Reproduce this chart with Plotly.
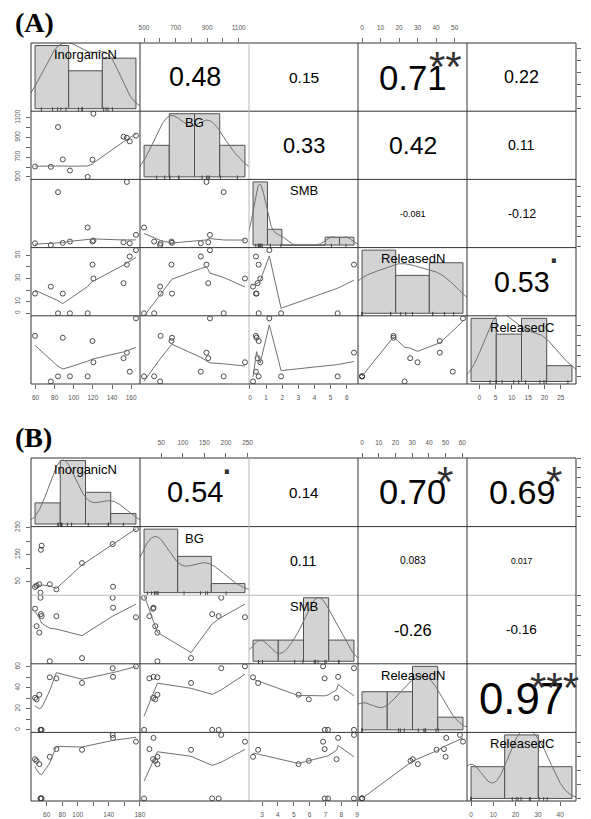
import numpy as np
import plotly.graph_objects as go

# ---------------- data ----------------
VARIABLES = ["InorganicN", "BG", "SMB", "ReleasedN", "ReleasedC"]

# Panel (A): 12 observations
A_InorganicN = [59.5, 76, 83.5, 88.5, 96, 114.5, 120.5, 119.5, 152, 155.5, 158.5, 165]
A_BG = [605, 602, 1005, 677, 564, 500, 1140, 674, 907, 896, 860, 918]
A_SMB = [0.37, 0.19, 5.44, 0.41, 0.54, 1.93, 0.64, 0.54, 0.47, 6.45, 0.37, 1.2]
A_ReleasedN = [17, 23, 0, 17, 0, 0, 30, 42, 26, 42, 49, 54.5]
A_ReleasedC = [19.8, -2.5, 0, 18.9, 0, 0, 6.9, 17.3, 8.9, 11.6, 2.3, 28.4]

# Panel (B): 12 observations
B_InorganicN = [45, 47, 50.5, 52.5, 53.5, 52, 64, 72.5, 105.5, 145, 145.5, 175]
B_BG = [31, 36, 41, 168, 183, 10, 41, 22.4, 119, 189, 32, 244]
B_SMB = [7.7, 5.95, 5.3, 7.16, 6.96, 8.8, 2.43, 6.95, 2.75, 8.8, 7.8, 6.85]
B_ReleasedN = [30.4, 29, 33.4, 0, 0, 0, 50, 49, 44.6, 58.6, 50.4, 60.4]
B_ReleasedC = [28, 26.8, 24.5, 0, 0, 0, 29.7, 35.2, 34.7, 45.3, 43.2, 40.5]

# histogram breaks of the diagonal panels
A_BREAKS = [[50, 100, 150, 200], [400, 600, 800, 1000, 1200], [0, 1, 2, 3, 4, 5, 6, 7],
            [0, 20, 40, 60], [-10, 0, 10, 20, 30]]
B_BREAKS = [[0, 50, 100, 150, 200], [0, 100, 200, 300], [2, 4, 6, 8, 10],
            [0, 20, 40, 60, 80], [0, 20, 40, 60]]

# correlations, upper triangle in row order: (1,2),(1,3),(1,4),(1,5),(2,3),(2,4),(2,5),(3,4),(3,5),(4,5)
A_COR_TEXT = ["0.48", "0.15", "0.71", "0.22", "0.33", "0.42", "0.11", "-0.081", "-0.12", "0.53"]
A_COR_SIG = ["", "", "**", "", "", "", "", "", "", "."]
B_COR_TEXT = ["0.54", "0.14", "0.70", "0.69", "0.11", "0.083", "0.017", "-0.26", "-0.16", "0.97"]
B_COR_SIG = [".", "", "*", "*", "", "", "", "", "", "***"]

# tick values / labels (column axes: bottom for odd columns, top for even; row axes: left/right)
A_COL_TICKS = [
    ([60, 80, 100, 120, 140, 160], ["60", "80", "100", "120", "140", "160"]),
    ([500, 600, 700, 800, 900, 1000, 1100], ["500", "", "700", "", "900", "", "1100"]),
    ([0, 1, 2, 3, 4, 5, 6], ["0", "1", "2", "3", "4", "5", "6"]),
    ([0, 10, 20, 30, 40, 50], ["0", "10", "20", "30", "40", "50"]),
    ([0, 5, 10, 15, 20, 25], ["0", "5", "10", "15", "20", "25"]),
]
A_ROW_TICKS = [
    ([60, 80, 100, 120, 140, 160], ["60", "", "100", "", "140", ""]),
    ([500, 600, 700, 800, 900, 1000, 1100], ["500", "", "700", "", "900", "", "1100"]),
    ([0, 1, 2, 3, 4, 5, 6], ["0", "1", "2", "3", "4", "5", "6"]),
    ([0, 10, 20, 30, 40, 50], ["0", "10", "", "30", "", "50"]),
    ([0, 5, 10, 15, 20, 25], ["0", "5", "", "15", "", "25"]),
]
B_COL_TICKS = [
    ([60, 80, 100, 120, 140, 160, 180], ["60", "80", "100", "", "140", "", "180"]),
    ([50, 100, 150, 200, 250], ["50", "100", "150", "200", "250"]),
    ([3, 4, 5, 6, 7, 8, 9], ["3", "4", "5", "6", "7", "8", "9"]),
    ([0, 10, 20, 30, 40, 50, 60], ["0", "10", "20", "30", "40", "50", "60"]),
    ([0, 10, 20, 30, 40], ["0", "10", "20", "30", "40"]),
]
B_ROW_TICKS = [
    ([60, 80, 100, 120, 140, 160, 180], ["60", "", "100", "", "140", "", "180"]),
    ([50, 100, 150, 200, 250], ["50", "", "150", "", "250"]),
    ([3, 4, 5, 6, 7, 8, 9], ["3", "4", "5", "6", "7", "8", "9"]),
    ([0, 10, 20, 30, 40, 50, 60], ["0", "", "20", "", "40", "", "60"]),
    ([0, 10, 20, 30, 40], ["0", "10", "20", "30", "40"]),
]

# ---------------- helpers ----------------
# the page body has an 8px default margin: the figure is drawn 8px smaller and
# all layout pixel positions (given in window pixels) are shifted by it
OFF = 8
W, H = 591 - OFF, 819 - OFF
FONT = "Liberation Sans, Arial, sans-serif"
CELL_W = 109
XB = [31 - OFF + CELL_W * k for k in range(6)]


def pad(v):
    v = np.asarray(v, float)
    s = v.max() - v.min()
    return [v.min() - 0.04 * s, v.max() + 0.04 * s]


def axid(letter, k):
    return letter if k == 1 else f"{letter}{k}"


def axkey(letter, k):
    return f"{letter}axis" if k == 1 else f"{letter}axis{k}"


def bw_nrd0(x):
    x = np.asarray(x, float)
    hi = np.std(x, ddof=1)
    q75, q25 = np.percentile(x, [75, 25])
    lo = min(hi, (q75 - q25) / 1.34)
    if lo <= 0:
        lo = hi if hi > 0 else (abs(x[0]) if x[0] != 0 else 1.0)
    return 0.9 * lo * len(x) ** -0.2


def kde(x):
    x = np.asarray(x, float)
    bw = bw_nrd0(x)
    g = np.linspace(x.min() - 3 * bw, x.max() + 3 * bw, 512)
    d = np.exp(-0.5 * ((g[:, None] - x[None, :]) / bw) ** 2).sum(1) / (len(x) * bw * np.sqrt(2 * np.pi))
    return g, d


def hist_density(x, breaks):
    x = np.asarray(x, float)
    b = np.asarray(breaks, float)
    counts = np.zeros(len(b) - 1)
    for v in x:
        for q in range(len(b) - 1):
            lo_ok = v > b[q] or (q == 0 and v >= b[q])
            if lo_ok and v <= b[q + 1]:
                counts[q] += 1
                break
    widths = np.diff(b)
    return (b[:-1] + b[1:]) / 2, widths, counts / (len(x) * widths)


def lowess(x, y, f=2 / 3, iters=3):
    order = np.argsort(np.asarray(x, float), kind="stable")
    x = np.asarray(x, float)[order]
    y = np.asarray(y, float)[order]
    n = len(x)
    ns = max(min(int(f * n + 1e-7), n), 2)
    rw = np.ones(n)
    ys = np.zeros(n)
    rng = x[-1] - x[0]
    for it in range(iters + 1):
        nleft, nright = 0, ns - 1
        for i in range(n):
            while nright < n - 1:
                d1 = x[i] - x[nleft]
                d2 = x[nright + 1] - x[i]
                if d1 <= d2:
                    break
                nleft += 1
                nright += 1
            xs = x[i]
            h = max(xs - x[nleft], x[nright] - xs)
            h9, h1 = 0.999 * h, 0.001 * h
            w = np.zeros(n)
            a = 0.0
            j = nleft
            while j < n:
                r = abs(x[j] - xs)
                if r <= h9:
                    w[j] = 1.0 if r <= h1 else (1 - (r / h) ** 3) ** 3
                    if it > 0:
                        w[j] *= rw[j]
                    a += w[j]
                elif x[j] > xs:
                    break
                j += 1
            nrt = j - 1
            sl = slice(nleft, nrt + 1)
            if a <= 0:
                ys[i] = y[i]
            else:
                w[sl] /= a
                if h > 0:
                    aa = np.sum(w[sl] * x[sl])
                    c = np.sum(w[sl] * (x[sl] - aa) ** 2)
                    if np.sqrt(c) > 0.001 * rng:
                        b = (xs - aa) / c
                        w[sl] *= b * (x[sl] - aa) + 1
                ys[i] = np.sum(w[sl] * y[sl])
        if it == iters:
            break
        res = y - ys
        cmad = 6 * np.median(np.abs(res))
        if cmad == 0 or cmad < 1e-7 * np.mean(np.abs(res)):
            break
        r = np.abs(res)
        rw = np.where(r <= 0.001 * cmad, 1.0,
                      np.where(r <= 0.999 * cmad, (1 - (r / cmad) ** 2) ** 2, 0.0))
    return x, ys


EM = {".": 0.278, "-": 0.333}


def em_width(s):
    return sum(EM.get(c, 0.556) for c in s)


AX_OFF = dict(showgrid=False, zeroline=False, showline=False, ticks="",
              showticklabels=False, fixedrange=True, automargin=False)


def tick_style(t, standoff=3):
    vals, texts = t
    return dict(tickmode="array", tickvals=vals, ticktext=texts, ticks="outside",
                ticklen=4, tickwidth=1, tickcolor="#666", showticklabels=True,
                tickfont=dict(family=FONT, size=6.5, color="#555"), ticklabelstandoff=standoff)


PANELS = [
    dict(label="(A)", data=[A_InorganicN, A_BG, A_SMB, A_ReleasedN, A_ReleasedC],
         breaks=A_BREAKS, cor=A_COR_TEXT, sig=A_COR_SIG, col_ticks=A_COL_TICKS,
         row_ticks=A_ROW_TICKS, top=43, bot=384, label_y=22.5, light_h=[]),
    dict(label="(B)", data=[B_InorganicN, B_BG, B_SMB, B_ReleasedN, B_ReleasedC],
         breaks=B_BREAKS, cor=B_COR_TEXT, sig=B_COR_SIG, col_ticks=B_COL_TICKS,
         row_ticks=B_ROW_TICKS, top=458, bot=801, label_y=437, light_h=[2]),
]

fig = go.Figure()
layout = {}
annotations = []
shapes = []

for p, P in enumerate(PANELS):
    data = [np.asarray(d, float) for d in P["data"]]
    YB = [P["top"] - OFF + (P["bot"] - P["top"]) * k / 5 for k in range(6)]
    ranges = [pad(d) for d in data]
    up = 0
    for i in range(5):
        for j in range(5):
            k = p * 25 + i * 5 + j + 1
            xr, yr = axid("x", k), axid("y", k)
            xdom = [XB[j] / W, XB[j + 1] / W]
            ydom = [1 - YB[i + 1] / H, 1 - YB[i] / H]
            xa = dict(domain=xdom, anchor=yr, range=ranges[j], **AX_OFF)
            ya = dict(domain=ydom, anchor=xr, range=ranges[i], **AX_OFF)
            if i == 4 and j % 2 == 0:
                xa.update(tick_style(P["col_ticks"][j]), side="bottom")
            if i == 0 and j % 2 == 1:
                xa.update(tick_style(P["col_ticks"][j], 5), side="top")
            if j == 0 and i % 2 == 1:
                ya.update(tick_style(P["row_ticks"][i]), side="left", tickangle=-90)
            if j == 4 and i % 2 == 0:
                ya.update(tick_style(P["row_ticks"][i], 2), side="right", tickangle=-90)
            layout[axkey("x", k)] = xa
            layout[axkey("y", k)] = ya

            if i > j:
                # lower panel: scatter + lowess smooth
                fig.add_trace(go.Scatter(x=data[j], y=data[i], mode="markers", xaxis=xr, yaxis=yr,
                                         marker=dict(symbol="circle-open", size=5, color="#3a3a3a",
                                                     line=dict(width=0.9, color="#3a3a3a")),
                                         hoverinfo="skip", showlegend=False))
                lx, ly = lowess(data[j], data[i])
                fig.add_trace(go.Scatter(x=lx, y=ly, mode="lines", xaxis=xr, yaxis=yr,
                                         line=dict(color="#707070", width=1),
                                         hoverinfo="skip", showlegend=False))
            else:
                # invisible anchor trace keeps the cell's own axes alive
                fig.add_trace(go.Scatter(x=data[j], y=data[i], mode="markers", xaxis=xr, yaxis=yr,
                                         marker=dict(opacity=0, color="white"),
                                         hoverinfo="skip", showlegend=False))
            if i < j:
                # upper panel: correlation text
                txt = P["cor"][up]
                sig = P["sig"][up]
                up += 1
                r = abs(float(txt))
                size = 0.8 / 1.3 * CELL_W * (r + 0.3) / em_width(txt)
                annotations.append(dict(xref=f"{xr} domain", yref=f"{yr} domain", x=0.5, y=0.5,
                                        text=txt, showarrow=False, xanchor="center", yanchor="middle",
                                        font=dict(family=FONT, size=size, color="black")))
                if sig:
                    ssize = 0.75 * CELL_W / em_width(txt)
                    shift = 0.3 * ssize if sig == "." else -0.23 * ssize
                    annotations.append(dict(xref=f"{xr} domain", yref=f"{yr} domain", x=0.8, y=0.8,
                                            text=sig, showarrow=False, xanchor="center",
                                            yanchor="middle", yshift=shift,
                                            font=dict(family=FONT, size=ssize, color="#333")))
            elif i == j:
                # diagonal: histogram + density + rug on their own axes over the same cell
                h = 50 + p * 5 + i + 1
                hx, hy = axid("x", h), axid("y", h)
                br = P["breaks"][i]
                mids, widths, dens = hist_density(data[i], br)
                m = dens.max()
                bspan = br[-1] - br[0]
                layout[axkey("x", h)] = dict(domain=xdom, anchor=hy, visible=False, fixedrange=True,
                                             automargin=False,
                                             range=[br[0] - 0.04 * bspan, br[-1] + 0.04 * bspan])
                layout[axkey("y", h)] = dict(domain=ydom, anchor=hx, visible=False, fixedrange=True,
                                             automargin=False, range=[-0.04 * m, 1.04 * m])
                fig.add_trace(go.Bar(x=mids, y=dens, width=widths, xaxis=hx, yaxis=hy,
                                     marker=dict(color="#D3D3D3", line=dict(color="#505050", width=1)),
                                     hoverinfo="skip", showlegend=False))
                gx, gd = kde(data[i])
                fig.add_trace(go.Scatter(x=gx, y=gd, mode="lines", xaxis=hx, yaxis=hy,
                                         line=dict(color="#707070", width=1),
                                         hoverinfo="skip", showlegend=False))
                fig.add_trace(go.Scatter(x=data[i], y=np.full(len(data[i]), -0.04 * m + 0.016 * 1.08 * m),
                                         mode="markers", xaxis=hx, yaxis=hy,
                                         marker=dict(symbol="line-ns-open", size=4, color="#444",
                                                     line=dict(width=1, color="#444")),
                                         hoverinfo="skip", showlegend=False))
                annotations.append(dict(xref=f"{xr} domain", yref=f"{yr} domain", x=0.5, y=0.833,
                                        text=VARIABLES[i], showarrow=False, xanchor="center",
                                        yanchor="middle", font=dict(family=FONT, size=13, color="black")))

    # cell borders
    for q in range(6):
        col = "#b8b8b8" if q == 2 else "#333"
        shapes.append(dict(type="line", xref="paper", yref="paper", layer="above",
                           x0=XB[q] / W, x1=XB[q] / W, y0=1 - YB[0] / H, y1=1 - YB[5] / H,
                           line=dict(color=col, width=1)))
        colh = "#b8b8b8" if q in P["light_h"] else "#333"
        shapes.append(dict(type="line", xref="paper", yref="paper", layer="above",
                           x0=XB[0] / W, x1=XB[5] / W, y0=1 - YB[q] / H, y1=1 - YB[q] / H,
                           line=dict(color=colh, width=1)))

    annotations.append(dict(xref="paper", yref="paper", x=max(13 - OFF, 0) / W,
                            y=1 - (P["label_y"] - OFF) / H,
                            text=f"<b>{P['label']}</b>", showarrow=False, xanchor="left",
                            yanchor="middle",
                            font=dict(family="Liberation Serif, Times New Roman, serif", size=28,
                                      color="black")))

fig.update_layout(template="none", width=W, height=H, margin=dict(l=0, r=0, t=0, b=0, pad=0),
                  autosize=False, paper_bgcolor="white", plot_bgcolor="rgba(0,0,0,0)",
                  showlegend=False, annotations=annotations, shapes=shapes, **layout)

fig.write_html("out.html")
